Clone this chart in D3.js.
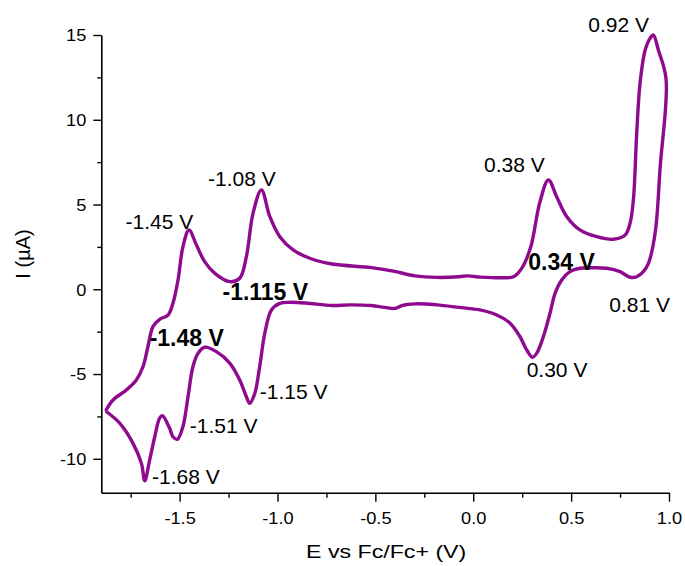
<!DOCTYPE html>
<html>
<head>
<meta charset="utf-8">
<script src="https://cdn.jsdelivr.net/npm/d3@7"></script>
<style>
  body { margin: 0; background: #fff; }
  svg { display: block; font-family: "Liberation Sans", Arial, sans-serif; }
</style>
</head>
<body>
<svg id="chart" width="685" height="566"></svg>
<script>
// CV data : potential (V vs Fc/Fc+) and current (µA)
// forward scan from the left vertex, then the return scan back to it
const potential = [
  -1.878, -1.84, -1.772, -1.721, -1.687, -1.662, -1.636, -1.602, -1.559, -1.534,
  -1.508, -1.483, -1.452, -1.414, -1.372, -1.32, -1.243, -1.193, -1.159, -1.125,
  -1.082, -1.039, -0.988, -0.92, -0.835, -0.721, -0.52, -0.408, -0.297, -0.186,
  -0.073, -0.029, 0.038, 0.15, 0.206, 0.25, 0.295, 0.34, 0.384, 0.426,
  0.478, 0.545, 0.631, 0.716, 0.776, 0.801, 0.818, 0.835, 0.852, 0.878,
  0.903, 0.92, 0.946, 0.985,
  0.955, 0.929, 0.895, 0.869, 0.835, 0.801, 0.75, 0.682, 0.614, 0.545,
  0.494, 0.452, 0.418, 0.392, 0.358, 0.324, 0.302, 0.273, 0.239, 0.188,
  0.12, 0.034, -0.073, -0.186, -0.297, -0.364, -0.398, -0.453, -0.52, -0.632,
  -0.721, -0.855, -0.937, -0.988, -1.031, -1.065, -1.091, -1.116, -1.142, -1.159,
  -1.193, -1.243, -1.312, -1.372, -1.406, -1.432, -1.457, -1.483, -1.511, -1.534,
  -1.551, -1.588, -1.602, -1.627, -1.653, -1.678, -1.695, -1.738, -1.806, -1.878
];
const current = [
  -7.18, -6.53, -5.94, -5.35, -4.57, -3.39, -2.2, -1.77, -1.52, -0.83,
  0.55, 2.51, 3.5, 2.61, 1.63, 0.94, 0.45, 0.65, 1.92, 4.48,
  5.86, 4.28, 3.1, 2.32, 1.83, 1.49, 1.28, 1.07, 0.79, 0.7,
  0.74, 0.79, 0.72, 0.68, 0.74, 1.28, 2.55, 5.12, 6.45, 5.46,
  4.28, 3.5, 3.1, 2.95, 3.2, 3.89, 5.27, 9.2, 12.15, 14.1,
  14.8, 15.0, 14.1, 12.4,
  7.23, 3.3, 1.53, 1.04, 0.74, 0.71, 1.04, 1.24, 1.27, 1.24,
  1.04, 0.55, -0.24, -1.42, -2.8, -3.78, -4.01, -3.58, -2.8, -2.0,
  -1.52, -1.22, -1.07, -0.92, -0.86, -0.96, -1.13, -1.07, -0.96, -0.92,
  -0.96, -0.81, -0.77, -0.83, -1.22, -2.6, -4.57, -6.14, -6.73, -6.34,
  -5.35, -4.37, -3.68, -3.42, -3.78, -4.57, -6.34, -8.1, -8.85, -8.7,
  -8.2, -7.46, -7.6, -8.7, -10.07, -11.3, -10.27, -9.09, -7.9, -7.18
];

// tick values
const xTicks = [-1.5, -1.0, -0.5, 0.0, 0.5, 1.0];
const xMinorTicks = [-1.75, -1.25, -0.75, -0.25, 0.25, 0.75];
const yTicks = [-10, -5, 0, 5, 10, 15];
const yMinorTicks = [-7.5, -2.5, 2.5, 7.5, 12.5];

// peak labels (left edge / baseline, in data units)
const peakText = ["0.92 V", "0.38 V", "0.34 V", "0.81 V", "0.30 V", "-1.08 V",
                  "-1.45 V", "-1.115 V", "-1.48 V", "-1.15 V", "-1.51 V", "-1.68 V"];
const peakE = [0.588, 0.055, 0.281, 0.695, 0.273, -1.355, -1.776, -1.281, -1.653, -1.09, -1.448, -1.641];
const peakI = [15.2, 6.94, 1.14, -1.32, -5.17, 6.11, 3.54, -0.63, -3.33, -6.47, -8.5, -11.5];
const peakBold = [false, false, true, false, false, false, false, true, true, false, false, false];

const xLabel = "E vs Fc/Fc+ (V)";
const yLabel = "I (µA)";

//////////////////////////////////////////////////////////////
const svg = d3.select("#chart");
const plotL = 101.3, plotR = 669, plotT = 35, plotB = 492.7;
const stretch = 1.14; // tick labels are a bit wider than plain Arial

const x = d3.scaleLinear().domain([-1.9, 1.0]).range([plotL, plotR]);
const y = d3.scaleLinear().domain([-12, 15]).range([plotB, plotT]);

// plain hyphen as minus sign, like the original
const fmtX = d => d3.format(".1f")(d).replace("\u2212", "-");
const fmtY = d => d3.format("d")(d).replace("\u2212", "-");

// minor ticks
svg.append("g")
   .attr("transform", `translate(0,${plotB})`)
   .call(d3.axisBottom(x).tickValues(xMinorTicks).tickSize(5).tickFormat(""))
   .call(g => g.select(".domain").remove());
svg.append("g")
   .attr("transform", `translate(${plotL},0)`)
   .call(d3.axisLeft(y).tickValues(yMinorTicks).tickSize(4).tickFormat(""))
   .call(g => g.select(".domain").remove());

// major axes
const gx = svg.append("g")
   .attr("transform", `translate(0,${plotB})`)
   .call(d3.axisBottom(x).tickValues(xTicks).tickSize(9).tickSizeOuter(0)
           .tickPadding(11).tickFormat(fmtX));
const gy = svg.append("g")
   .attr("transform", `translate(${plotL},0)`)
   .call(d3.axisLeft(y).tickValues(yTicks).tickSize(8).tickSizeOuter(0)
           .tickPadding(7).tickFormat(fmtY));

[gx, gy].forEach(g => {
  g.selectAll("path.domain").attr("stroke", "#000").attr("stroke-width", 1.6);
  g.selectAll(".tick text")
   .attr("fill", "#000")
   .style("font-size", "16px")
   .style("font-family", "'Liberation Sans', Arial, sans-serif");
});
svg.selectAll(".tick line").attr("stroke", "#000").attr("stroke-width", 1.4);
gx.selectAll(".tick text").attr("transform", `scale(${stretch},1)`);
gy.selectAll(".tick text")
  .attr("x", -15 / stretch)
  .attr("dy", "0.36em")
  .attr("transform", `scale(${stretch},1)`);

// axis titles
svg.append("text")
   .attr("transform", `translate(${(plotL + plotR) / 2 + 1},558) scale(1.22,1)`)
   .attr("text-anchor", "middle")
   .style("font-size", "19px")
   .text(xLabel);
svg.append("text")
   .attr("transform", "translate(30,254) rotate(-90)")
   .attr("text-anchor", "middle")
   .style("font-size", "20px")
   .text(yLabel);

// the voltammogram
const pts = potential.map((e, i) => [e, current[i]]);
const line = d3.line()
   .x(d => x(d[0]))
   .y(d => y(d[1]))
   .curve(d3.curveCatmullRom.alpha(0.5));
svg.append("path")
   .datum(pts)
   .attr("d", line)
   .attr("fill", "none")
   .attr("stroke", "#8e0a8e")
   .attr("stroke-width", 3.4)
   .attr("stroke-linejoin", "round");

// peak labels
svg.selectAll("text.peak")
   .data(peakText)
   .enter()
   .append("text")
   .attr("class", "peak")
   .attr("x", (d, i) => x(peakE[i]))
   .attr("y", (d, i) => y(peakI[i]))
   .style("font-size", (d, i) => peakBold[i] ? "23px" : "21px")
   .style("font-weight", (d, i) => peakBold[i] ? "bold" : "normal")
   .text(d => d);
</script>
</body>
</html>
